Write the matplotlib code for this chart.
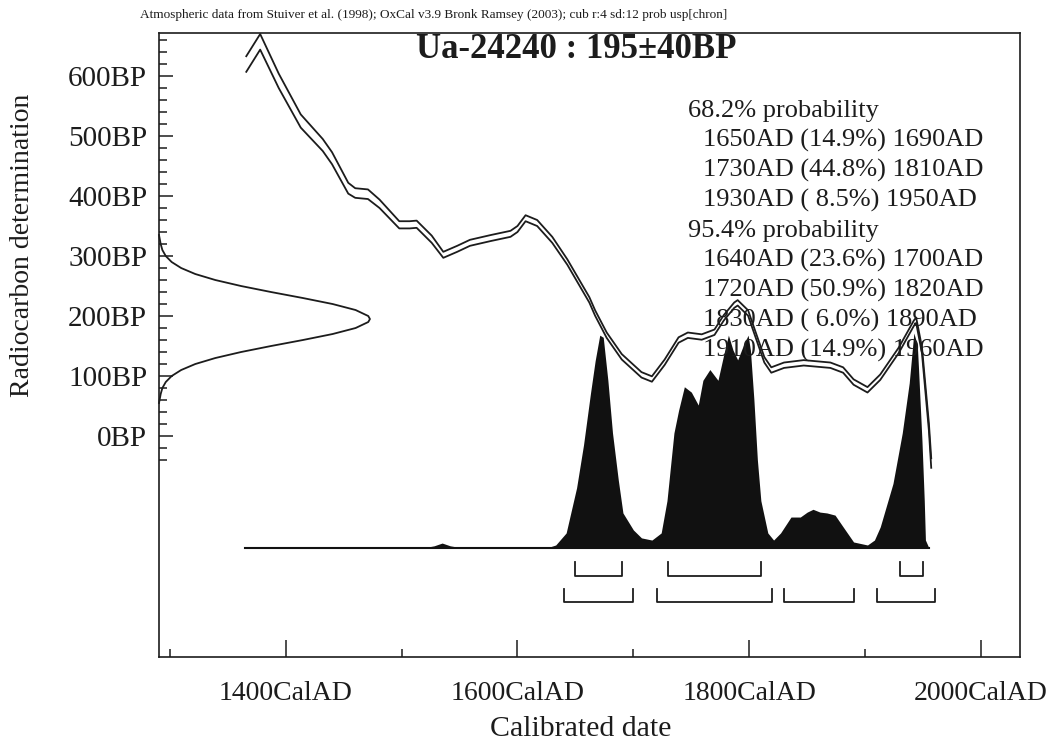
import matplotlib
matplotlib.use("Agg")
import matplotlib.pyplot as plt
import matplotlib.transforms as mtransforms
import numpy as np

plt.rcParams['font.family'] = ['Liberation Serif', 'DejaVu Serif']

# ---------------- data ----------------
# calibration curve (centre, BP) and its 1-sigma half width
curve_year = [1366, 1378, 1394, 1413, 1432, 1440, 1454, 1460, 1471, 1481, 1498,
              1507, 1513, 1526, 1536, 1548, 1559, 1577, 1594, 1600, 1607,
              1617, 1630, 1643, 1662, 1667, 1677, 1690, 1707, 1716, 1727,
              1739, 1747, 1759, 1770, 1778, 1787, 1790, 1799, 1804, 1813,
              1819, 1830, 1847, 1870, 1881, 1890, 1902, 1913, 1929, 1942,
              1944, 1949, 1955, 1957]
curve_bp = [620, 657, 592, 525, 485, 463, 413, 405, 403, 387, 352,
            352, 353, 328, 302, 312, 322, 330, 337, 345, 363,
            355, 327, 290, 227, 205, 168, 132, 102, 95, 123,
            160, 168, 165, 173, 197, 218, 222, 205, 177, 127,
            110, 118, 122, 118, 110, 90, 77, 98, 143, 188,
            193, 143, 15, -45]
curve_sigma = [13, 13, 12, 11, 10, 10, 9, 8, 8, 7, 6,
               6, 6, 6, 5, 5, 5, 5, 5, 5, 5,
               5, 5, 4.5, 4.5, 4.5, 4.5, 4.5, 4.5, 4.5, 4.5,
               4.5, 4.5, 4.5, 4.5, 4.5, 4.5, 4.5, 4.5, 4.5, 4.5,
               4.5, 4.5, 4.5, 4.5, 4.5, 4.5, 4.5, 4.5, 4.5, 4.5,
               4.5, 5, 6, 8]

# calibrated probability distribution (relative)
post_year = [1365, 1518, 1528, 1535, 1542, 1553, 1625, 1633, 1642, 1651,
             1657, 1663, 1667, 1671, 1674, 1678, 1682, 1687, 1691, 1700,
             1707, 1716, 1724, 1729, 1735, 1739, 1744, 1750, 1756, 1760,
             1766, 1773, 1778, 1782, 1786, 1790, 1795, 1799, 1801, 1804,
             1807, 1810, 1816, 1821, 1827, 1836, 1844, 1850, 1855, 1861,
             1867, 1874, 1881, 1890, 1902, 1908, 1913, 1924, 1932, 1938,
             1942, 1945, 1946, 1949, 1951, 1952, 1955]
post_prob = [0, 0, 0.01, 0.023, 0.01, 0, 0, 0.014, 0.07, 0.28,
             0.48, 0.72, 0.87, 0.99, 0.98, 0.78, 0.535, 0.316, 0.163, 0.084,
             0.047, 0.037, 0.07, 0.22, 0.535, 0.64, 0.75, 0.725, 0.665, 0.78,
             0.83, 0.78, 0.90, 0.99, 0.92, 0.875, 0.944, 0.99, 0.92, 0.69,
             0.41, 0.22, 0.07, 0.037, 0.07, 0.144, 0.144, 0.167, 0.18, 0.167,
             0.163, 0.153, 0.098, 0.028, 0.014, 0.037, 0.098, 0.30, 0.535, 0.767,
             1.0, 0.944, 0.84, 0.50, 0.22, 0.037, 0]

# measured radiocarbon age distribution (relative height)
gauss_bp = [335, 320, 310, 300, 290, 280, 270, 260, 250, 240, 230, 220, 210,
            200, 195, 190, 180, 170, 160, 150, 140, 130, 120, 110, 100, 90,
            80, 70, 55]
gauss_rel = [0.0, 0.008, 0.016, 0.032, 0.06, 0.105, 0.172, 0.267, 0.389,
             0.531, 0.682, 0.823, 0.932, 0.992, 1.0, 0.992, 0.932, 0.823,
             0.682, 0.531, 0.389, 0.267, 0.172, 0.105, 0.06, 0.032, 0.016,
             0.008, 0.0]

# ranges (from, to, percent)
ranges68 = [(1650, 1690, 14.9), (1730, 1810, 44.8), (1930, 1950, 8.5)]
ranges95 = [(1640, 1700, 23.6), (1720, 1820, 50.9), (1830, 1890, 6.0),
            (1910, 1960, 14.9)]

x_major = [1400, 1600, 1800, 2000]
x_minor = [1300, 1500, 1700, 1900]
y_major = [0, 100, 200, 300, 400, 500, 600]
y_minor = [v for v in range(-40, 661, 20) if v % 100 != 0]

sample_name = "Ua-24240"
sample_age = 195
sample_err = 40
header = ("Atmospheric data from Stuiver et al. (1998); OxCal v3.9 Bronk Ramsey "
          "(2003); cub r:4 sd:12 prob usp[chron]")

# ---------------- figure ----------------
W, H = 1052, 744
ink = '#1c1c1c'
fig = plt.figure(figsize=(W / 100, H / 100), dpi=100)
L, R, T, B = 159, 1020, 33, 657
ax = fig.add_axes([L / W, 1 - B / H, (R - L) / W, (B - T) / H])
ax.set_xlim(1290.7, 2033.6)
ax.set_ylim(-368.3, 671.7)
for s in ax.spines.values():
    s.set_linewidth(1.2)
    s.set_color(ink)

ax.set_xticks(x_major)
ax.set_xticklabels([f"{v}CalAD" for v in x_major])
ax.set_xticks(x_minor, minor=True)
ax.set_yticks(y_major)
ax.set_yticklabels([f"{v}BP" for v in y_major])
ax.set_yticks(y_minor, minor=True)
ax.tick_params(axis='both', which='both', direction='in', top=False, right=False,
               colors=ink, width=1.1)
ax.tick_params(axis='x', which='major', length=12, pad=17, labelsize=20)
ax.tick_params(axis='x', which='minor', length=6)
ax.tick_params(axis='y', which='major', length=10, pad=8.5, labelsize=21)
ax.tick_params(axis='y', which='minor', length=5.5)

fig.text(581 / W, 1 - 729 / H, "Calibrated date", fontsize=21.5,
         ha='center', va='center', color=ink)
fig.text(23 / W, 1 - 245 / H, "Radiocarbon determination", fontsize=20,
         rotation=90, ha='center', va='center', color=ink)

# posterior on an invisible twin axis
ax2 = ax.twinx()
ax2.set_ylim(-0.507, 2.3954)
ax2.axis('off')
ax2.fill_between(post_year, 0, post_prob, color='#111111', lw=0, zorder=1)
ax2.plot([post_year[0], post_year[-1]], [0, 0], color='#111111', lw=1.5, zorder=1)

# calibration curve as a white band with two outlines (on top)
cy = np.array(curve_year, float)
cb = np.array(curve_bp, float)
cs = np.array(curve_sigma, float)
ax3 = ax.twinx()
ax3.set_ylim(ax.get_ylim())
ax3.axis('off')
ax3.fill_between(cy, cb - cs, cb + cs, color='white', lw=0, zorder=2)
ax3.plot(cy, cb + cs, color=ink, lw=1.3, zorder=3)
ax3.plot(cy, cb - cs, color=ink, lw=1.3, zorder=3)

# measured age distribution along the y axis
blend = mtransforms.blended_transform_factory(ax.transAxes, ax.transData)
ax.plot(np.array(gauss_rel) * 0.245, gauss_bp, color=ink, lw=1.3,
        transform=blend, clip_on=False)

# range brackets
bt = mtransforms.blended_transform_factory(ax3.transData, ax3.transAxes)
rows = [(ranges68, 0.1522, 0.1298), (ranges95, 0.1090, 0.0881)]
for rng, top, bot in rows:
    for a, b, _ in rng:
        ax3.plot([a, a, b, b], [top, bot, bot, top], color=ink, lw=1.3,
                 transform=bt, zorder=3)

# texts
fig.text(140 / W, 1 - 15 / H, header, fontsize=9.5, va='center', ha='left', color=ink)
fig.text(576 / W, 1 - 58.5 / H, f"{sample_name} : {sample_age}\u00b1{sample_err}BP",
         fontsize=25, weight='bold', ha='center', va='baseline', color=ink)

lines = [("68.2% probability", 0)]
lines += [(f"{a}AD ({p:4.1f}%) {b}AD", 1) for a, b, p in ranges68]
lines += [("95.4% probability", 0)]
lines += [(f"{a}AD ({p:4.1f}%) {b}AD", 1) for a, b, p in ranges95]
for i, (txt, ind) in enumerate(lines):
    x = 688 + 15 * ind
    ybase = 116.5 + 30 * i
    fig.text(x / W, 1 - ybase / H, txt, fontsize=19, ha='left', va='baseline',
             color=ink, zorder=10)

fig.savefig("out.png", dpi=100)
